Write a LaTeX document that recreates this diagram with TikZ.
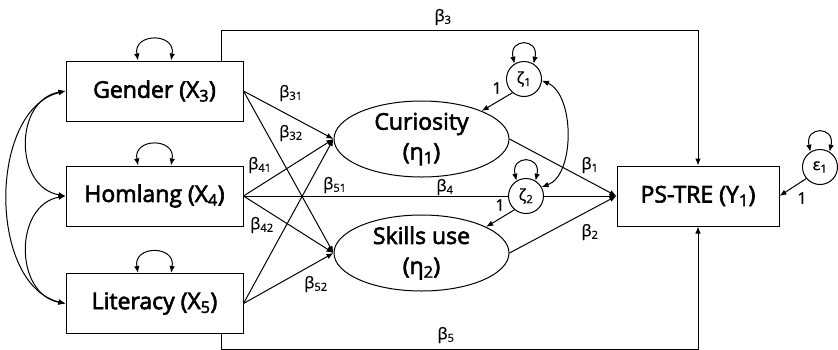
\documentclass[tikz,border=0pt]{standalone}
\usepackage{fontspec}
\setmainfont{Open Sans}[FakeBold=0.6]
\newfontfamily\boxfont{Open Sans}[FakeBold=2.6]
\usetikzlibrary{arrows.meta,shapes.geometric}
\begin{document}
\begin{tikzpicture}[x=1pt,y=-1pt,
  line width=1pt,
  arr/.style={-{Latex[length=7pt,width=5.5pt]}},
  darr/.style={{Latex[length=7pt,width=5.5pt]}-{Latex[length=7pt,width=5.5pt]}},
  obs/.style={draw,minimum width=177pt,minimum height=60pt,inner sep=0pt,font=\boxfont\fontsize{23}{27}\selectfont},
  lat/.style={draw,ellipse,minimum width=175pt,minimum height=76pt,inner sep=0pt,align=center,font=\boxfont\fontsize{23}{30}\selectfont},
  err/.style={draw,circle,minimum size=35pt,inner sep=0pt,fill=white,font=\fontsize{16}{18}\selectfont},
  lab/.style={font=\fontsize{16}{18}\selectfont,inner sep=0pt}]
\useasboundingbox (0,0) rectangle (838,349);
% nodes
\node[obs] (g) at (154.5,91) {Gender (X\textsubscript{3})};
\node[obs] (h) at (154.5,196) {Homlang (X\textsubscript{4})};
\node[obs] (l) at (154.5,303.5) {Literacy (X\textsubscript{5})};
\node[obs,minimum width=162pt] (ps) at (698,196) {PS-TRE (Y\textsubscript{1})};
\node[lat] (cur) at (421.5,139) {Curiosity\\(η\textsubscript{1})};
\node[lat] (sk) at (421.5,253) {Skills use\\(η\textsubscript{2})};
\node[err] (z1) at (524,79) {ζ\textsubscript{1}};
\node[err] (z2) at (526,196) {ζ\textsubscript{2}};
\node[err] (e1) at (820,167) {ε\textsubscript{1}};
% variance loops
\foreach \n in {g,h,l}
  \draw[darr] ([xshift=-16.5pt]\n.north) .. controls +(-5,-28) and +(5,-28) .. ([xshift=16.5pt]\n.north);
\foreach \n in {z1,z2,e1}
  \draw[darr] (\n.122) .. controls +(-6,-26) and +(6,-26) .. (\n.58);
% covariances among exogenous
\draw[darr] (g.west) .. controls (14,100) and (14,187) .. (h.west);
\draw[darr] (h.west) .. controls (14,205) and (14,294) .. (l.west);
\draw[darr] (g.west) .. controls (-12,110) and (-12,285) .. (l.west);
% paths
\draw[arr] (g.east) -- (cur.west);
\draw[arr] (g.east) -- (sk.west);
\draw[arr] (h.east) -- (cur.west);
\draw[arr] (h.east) -- (sk.west);
\draw[arr] (l.east) -- (cur.west);
\draw[arr] (l.east) -- (sk.west);
\draw (h.east) -- (z2.west);
\draw[arr] (z2.east) -- (ps.west);
\draw[arr] (cur.east) -- (ps.west);
\draw[arr] (sk.east) -- (ps.west);
\draw[arr] (z1.-130) -- (cur.25);
\draw[arr] (z2.-130) -- (sk.22);
\draw[arr] (e1.-140) -- (ps.east);
\draw[darr] (z1.-5) .. controls (575,95) and (575,175) .. (z2.30);
\draw[arr] ([xshift=-22pt]g.north east) -- ++(0,-30) -| (ps.north);
\draw[arr] ([xshift=-22pt]l.south east) -- ++(0,15) -| (ps.south);
% labels
\node[lab] (b3) at (443,17) {β\textsubscript{3}};
\node[lab] (b31) at (291,93) {β\textsubscript{31}};
\node[lab] (b32) at (291,133) {β\textsubscript{32}};
\node[lab] (b41) at (260,165) {β\textsubscript{41}};
\node[lab] (b51) at (335,185) {β\textsubscript{51}};
\node[lab] (b4) at (445,187) {β\textsubscript{4}};
\node[lab] (b42) at (262,225) {β\textsubscript{42}};
\node[lab] (b52) at (316,284) {β\textsubscript{52}};
\node[lab] (b1) at (590,165) {β\textsubscript{1}};
\node[lab] (b2) at (590,232) {β\textsubscript{2}};
\node[lab] (b5) at (446,335) {β\textsubscript{5}};
\node[lab] (one1) at (497,88) {1};
\node[lab] (one2) at (500,205) {1};
\node[lab] (one3) at (802,198) {1};
\end{tikzpicture}
\end{document}
